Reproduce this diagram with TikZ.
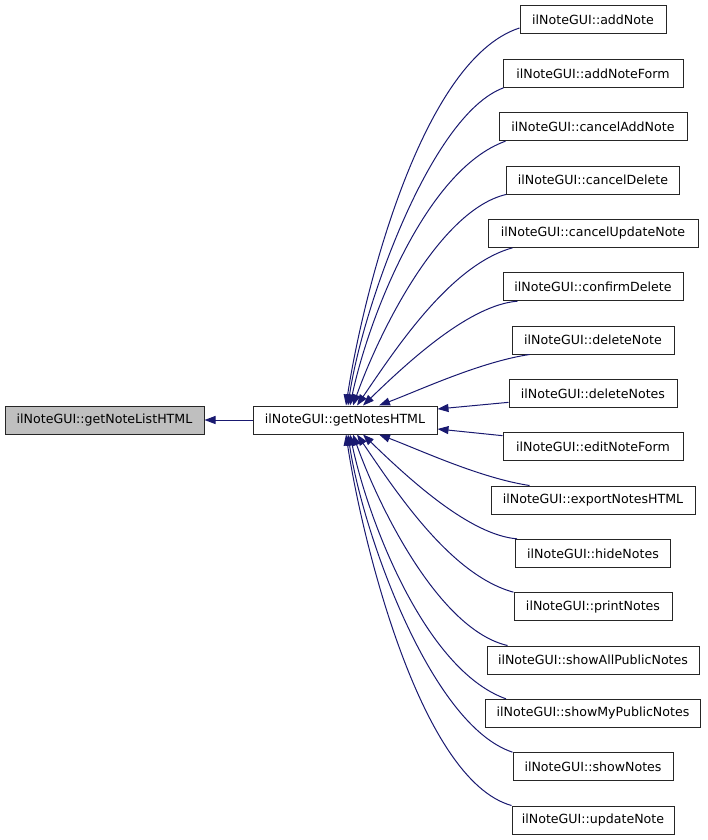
\documentclass[tikz,border=0pt]{standalone}
\usepackage{fontspec}
\setmainfont{DejaVu Sans}
\usetikzlibrary{arrows.meta}
\definecolor{edgecol}{HTML}{191970}
\definecolor{hlfill}{HTML}{BFBFBF}
\tikzset{
  fnbox/.style={draw=black!85, line width=1pt, fill=white, minimum height=28pt,
    inner xsep=0pt, inner ysep=0pt, font=\fontsize{12.6}{15}\selectfont},
  hlbox/.style={fnbox, fill=hlfill},
  calledge/.style={draw=edgecol, line width=1pt, {Triangle[length=11pt,width=8pt]}-}
}
\begin{document}
\begin{tikzpicture}[x=1pt,y=-1pt]
\useasboundingbox (0,0) rectangle (707,840);
\node[hlbox, minimum width=199pt] (gl) at (104.5,420) {ilNoteGUI::getNoteListHTML};
\node[fnbox, minimum width=184pt] (gn) at (345,420) {ilNoteGUI::getNotesHTML};
\node[fnbox, minimum width=146pt] (n1) at (593,20) {ilNoteGUI::addNote};
\node[fnbox, minimum width=180pt] (n2) at (593,73.33) {ilNoteGUI::addNoteForm};
\node[fnbox, minimum width=188pt] (n3) at (593,126.67) {ilNoteGUI::cancelAddNote};
\node[fnbox, minimum width=173pt] (n4) at (593,180) {ilNoteGUI::cancelDelete};
\node[fnbox, minimum width=210pt] (n5) at (593,233.33) {ilNoteGUI::cancelUpdateNote};
\node[fnbox, minimum width=180pt] (n6) at (593,286.67) {ilNoteGUI::confirmDelete};
\node[fnbox, minimum width=162pt] (n7) at (593,340) {ilNoteGUI::deleteNote};
\node[fnbox, minimum width=168pt] (n8) at (593,393.33) {ilNoteGUI::deleteNotes};
\node[fnbox, minimum width=180pt] (n9) at (593,446.67) {ilNoteGUI::editNoteForm};
\node[fnbox, minimum width=204pt] (n10) at (593,500) {ilNoteGUI::exportNotesHTML};
\node[fnbox, minimum width=155pt] (n11) at (593,553.33) {ilNoteGUI::hideNotes};
\node[fnbox, minimum width=158pt] (n12) at (593,606.67) {ilNoteGUI::printNotes};
\node[fnbox, minimum width=212pt] (n13) at (593,660) {ilNoteGUI::showAllPublicNotes};
\node[fnbox, minimum width=215pt] (n14) at (593,713.33) {ilNoteGUI::showMyPublicNotes};
\node[fnbox, minimum width=160pt] (n15) at (593,766.67) {ilNoteGUI::showNotes};
\node[fnbox, minimum width=162pt] (n16) at (593,820) {ilNoteGUI::updateNote};
% edge to left node
\draw[calledge] (gl.east) -- (gn.west);
% upper edges
\draw[calledge] ([xshift=1pt]gn.north) .. controls (362,300) and (420,60) .. ([yshift=-8pt]n1.west);
\draw[calledge] ([xshift=3pt]gn.north) .. controls (362,310) and (430,115) .. ([xshift=1pt]n2.south west);
\draw[calledge] ([xshift=5pt]gn.north) .. controls (368,320) and (425,170) .. ([xshift=7pt]n3.south west);
\draw[calledge] ([xshift=8pt]gn.north) .. controls (380,330) and (440,210) .. (n4.south west);
\draw[calledge] ([xshift=12pt]gn.north) .. controls (395,350) and (450,265) .. ([xshift=25pt]n5.south west);
\draw[calledge] ([xshift=18pt]gn.north) .. controls (410,360) and (470,305) .. ([xshift=15pt]n6.south west);
\draw[calledge] ([xshift=34pt]gn.north) .. controls (420,390) and (480,362) .. ([xshift=18pt]n7.south west);
% side edges
\draw[calledge] ([yshift=11pt]gn.east) -- ([yshift=-9pt]n8.west);
\draw[calledge] ([yshift=-9pt]gn.east) -- ([yshift=11pt]n9.west);
% lower edges
\draw[calledge] ([xshift=34pt]gn.south) .. controls (420,450) and (480,478) .. ([xshift=39pt]n10.north west);
\draw[calledge] ([xshift=18pt]gn.south) .. controls (410,480) and (470,535) .. ([xshift=2pt]n11.north west);
\draw[calledge] ([xshift=12pt]gn.south) .. controls (395,490) and (450,575) .. (n12.north west);
\draw[calledge] ([xshift=8pt]gn.south) .. controls (380,510) and (440,630) .. ([xshift=21pt]n13.north west);
\draw[calledge] ([xshift=5pt]gn.south) .. controls (368,520) and (425,670) .. ([xshift=21pt]n14.north west);
\draw[calledge] ([xshift=3pt]gn.south) .. controls (362,530) and (430,725) .. (n15.north west);
\draw[calledge] ([xshift=1pt]gn.south) .. controls (362,540) and (420,780) .. (n16.north west);
\end{tikzpicture}
\end{document}
